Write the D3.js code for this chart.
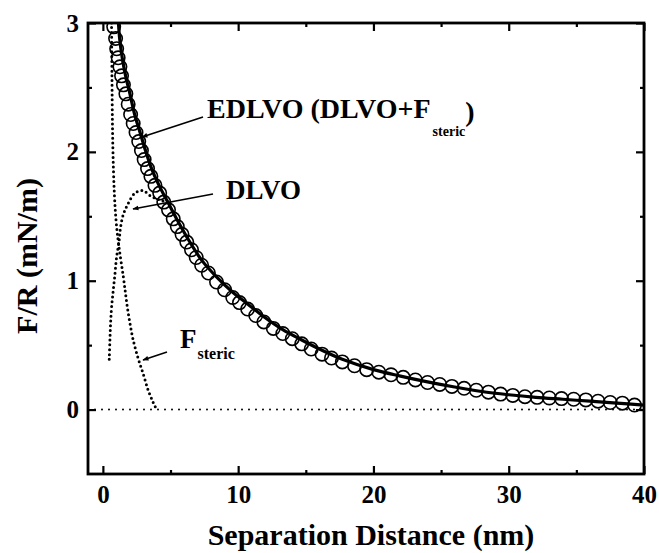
<!DOCTYPE html>
<html>
<head>
<meta charset="utf-8">
<script src="https://cdn.jsdelivr.net/npm/d3@7"></script>
<style>
  html, body { margin: 0; padding: 0; background: #fff; }
  svg { display: block; }
  text { font-family: "Liberation Serif", "Times New Roman", serif; font-weight: bold; fill: #000; }
</style>
</head>
<body>
<script>
// ---- Data ----
// EDLVO data points (open circles)
const circX = [0.80,0.94,1.02,1.13,1.26,1.38,1.52,1.70,1.87,2.05,2.24,2.45,2.65,2.85,3.05,3.30,3.55,3.85,4.20,4.50,4.85,5.20,5.50,5.85,6.20,6.55,6.90,7.30,7.80,8.40,9.00,9.60,10.1,10.7,11.3,11.9,12.6,13.3,14.0,14.7,15.4,16.2,16.9,17.7,18.6,19.5,20.4,21.3,22.2,23.1,24.0,24.9,25.8,26.7,27.6,28.5,29.4,30.3,31.2,32.1,33.0,33.9,34.8,35.7,36.6,37.5,38.4,39.3];
const circY = [2.97,2.88,2.80,2.73,2.66,2.59,2.52,2.45,2.37,2.29,2.22,2.15,2.08,2.01,1.94,1.87,1.81,1.74,1.68,1.61,1.55,1.48,1.42,1.36,1.30,1.24,1.18,1.12,1.06,0.99,0.93,0.87,0.83,0.78,0.73,0.68,0.63,0.59,0.55,0.51,0.47,0.43,0.40,0.37,0.34,0.31,0.29,0.27,0.25,0.23,0.21,0.195,0.18,0.165,0.15,0.135,0.12,0.11,0.10,0.095,0.09,0.085,0.08,0.075,0.065,0.055,0.05,0.035];
// EDLVO (DLVO + F_steric) fitted curve (solid)
const edlvoX = [1.15,1.24,1.43,1.68,2.0,2.35,2.75,3.15,3.6,4.15,4.8,5.5,6.2,7.3,8.4,9.6,10.7,11.9,13.3,14.7,16.2,17.7,20,22,24,26,28,30,32,34,36,38,40];
const edlvoY = [3.0,2.88,2.73,2.59,2.45,2.29,2.15,2.01,1.87,1.74,1.61,1.47,1.34,1.16,1.03,0.91,0.82,0.72,0.62,0.54,0.46,0.39,0.31,0.26,0.215,0.175,0.14,0.115,0.095,0.08,0.065,0.05,0.035];
// DLVO curve (dotted)
const dlvoX = [0.47,0.52,0.57,0.64,0.76,0.89,1.01,1.2,1.3,1.5,1.87,2.37,2.95,3.5,4.1,4.8];
const dlvoY = [0.39,0.54,0.67,0.79,0.92,1.05,1.18,1.31,1.41,1.51,1.60,1.68,1.70,1.66,1.63,1.61];
// F_steric curve (dotted)
const stericX = [0.64,0.67,0.71,0.77,0.86,0.98,1.12,1.3,1.5,1.65,1.8,2.0,2.24,2.6,3.0,3.35,3.7,3.97];
const stericY = [3.0,2.6,2.2,1.9,1.65,1.46,1.32,1.18,1.04,0.92,0.80,0.67,0.54,0.40,0.27,0.15,0.06,0.0];
// zero reference line
const zeroX = [-1.1, 40];
const zeroY = [0, 0];
// ticks
const xTicks = [0,10,20,30,40];
const xMinor = [5,15,25,35];
const yTicks = [0,1,2,3];
const yMinor = [0.5,1.5,2.5];

// ---- Layout ----
const W = 659, H = 553;
const L = 88, R = 644, T = 23, B = 474;
const x = d3.scaleLinear().domain([-1.1, 40]).range([L, R]);
const y = d3.scaleLinear().domain([-0.5, 3]).range([B, T]);

const svg = d3.select("body").append("svg").attr("width", W).attr("height", H);

svg.append("defs").append("clipPath").attr("id","clip")
  .append("rect").attr("x", L).attr("y", T).attr("width", R-L).attr("height", B-T);
svg.select("defs").append("marker").attr("id","ah")
  .attr("viewBox","0 0 10 10").attr("refX",9).attr("refY",5)
  .attr("markerWidth",7).attr("markerHeight",6).attr("markerUnits","userSpaceOnUse")
  .attr("orient","auto")
  .append("path").attr("d","M0,1 L10,5 L0,9 Z").attr("fill","#000");

const plot = svg.append("g").attr("clip-path","url(#clip)");
const pts = (xs, ys) => xs.map((v,i)=>[v, ys[i]]);
const line = d3.line().x(d=>x(d[0])).y(d=>y(d[1])).curve(d3.curveCatmullRom.alpha(0.5));

// zero line
plot.append("path").datum(pts(zeroX, zeroY)).attr("d", d3.line().x(d=>x(d[0])).y(d=>y(d[1])))
  .attr("fill","none").attr("stroke","#000").attr("stroke-width",2)
  .attr("stroke-linecap","round").attr("stroke-dasharray","0 7");
// dotted curves
[[dlvoX,dlvoY],[stericX,stericY]].forEach(([xs,ys])=>{
  plot.append("path").datum(pts(xs,ys)).attr("d", line)
    .attr("fill","none").attr("stroke","#000").attr("stroke-width",3)
    .attr("stroke-linecap","round").attr("stroke-dasharray","0 4.8");
});
// solid EDLVO
plot.append("path").datum(pts(edlvoX, edlvoY)).attr("d", line)
  .attr("fill","none").attr("stroke","#000").attr("stroke-width",3.2);
// circles
plot.selectAll("circle.pt").data(pts(circX, circY)).join("circle")
  .attr("class","pt").attr("cx", d=>x(d[0])).attr("cy", d=>y(d[1])).attr("r", 6.7)
  .attr("fill","none").attr("stroke","#000").attr("stroke-width",1.6);

// ---- Axes ----
function styleAxis(g){
  g.select(".domain").remove();
  g.selectAll(".tick line").attr("stroke","#000").attr("stroke-width",2.2);
  g.selectAll("text").style("font-size","25px").attr("fill","#000");
}
// major
svg.append("g").attr("transform",`translate(0,${B})`)
  .call(d3.axisBottom(x).tickValues(xTicks).tickSize(-8).tickPadding(11).tickFormat(d3.format("d"))).call(styleAxis);
svg.append("g").attr("transform",`translate(${L},0)`)
  .call(d3.axisLeft(y).tickValues(yTicks).tickSize(-8).tickPadding(9).tickFormat(d3.format("d"))).call(styleAxis);
svg.append("g").attr("transform",`translate(0,${T})`)
  .call(d3.axisTop(x).tickValues(xTicks).tickSize(-8).tickFormat("")).call(styleAxis);
svg.append("g").attr("transform",`translate(${R},0)`)
  .call(d3.axisRight(y).tickValues(yTicks).tickSize(-8).tickFormat("")).call(styleAxis);
// minor
svg.append("g").attr("transform",`translate(0,${B})`)
  .call(d3.axisBottom(x).tickValues(xMinor).tickSize(-4).tickFormat("")).call(styleAxis);
svg.append("g").attr("transform",`translate(0,${T})`)
  .call(d3.axisTop(x).tickValues(xMinor).tickSize(-4).tickFormat("")).call(styleAxis);
svg.append("g").attr("transform",`translate(${L},0)`)
  .call(d3.axisLeft(y).tickValues(yMinor).tickSize(-4).tickFormat("")).call(styleAxis);
svg.append("g").attr("transform",`translate(${R},0)`)
  .call(d3.axisRight(y).tickValues(yMinor).tickSize(-4).tickFormat("")).call(styleAxis);

// frame
svg.append("rect").attr("x",L).attr("y",T).attr("width",R-L).attr("height",B-T)
  .attr("fill","none").attr("stroke","#000").attr("stroke-width",2.8);

// ---- Titles ----
svg.append("text").attr("x", 371).attr("y", 545).attr("text-anchor","middle")
  .style("font-size","30px").text("Separation Distance (nm)");
svg.append("text").attr("transform","translate(37,256) rotate(-90)").attr("text-anchor","middle")
  .style("font-size","30px").text("F/R (mN/m)");

// ---- Annotations ----
const t1 = svg.append("text").attr("x",207).attr("y",118).style("font-size","28px");
t1.append("tspan").text("EDLVO (DLVO+F");
t1.append("tspan").attr("dx",2).attr("dy",18).style("font-size","14px").text("steric");
t1.append("tspan").attr("dy",-15).text(")");

svg.append("text").attr("x",226).attr("y",199).style("font-size","27px").text("DLVO");

const t3 = svg.append("text").attr("x",180).attr("y",348).style("font-size","27px");
t3.append("tspan").text("F");
t3.append("tspan").attr("dx",1).attr("dy",11).style("font-size","16px").text("steric");

// arrows
const arrows = [
  [[203,117],[142,137]],
  [[213,194],[133,209]],
  [[167,352],[143,360]]
];
arrows.forEach(a=>{
  svg.append("line").attr("x1",a[0][0]).attr("y1",a[0][1]).attr("x2",a[1][0]).attr("y2",a[1][1])
    .attr("stroke","#000").attr("stroke-width",1.7).attr("marker-end","url(#ah)");
});
</script>
</body>
</html>
